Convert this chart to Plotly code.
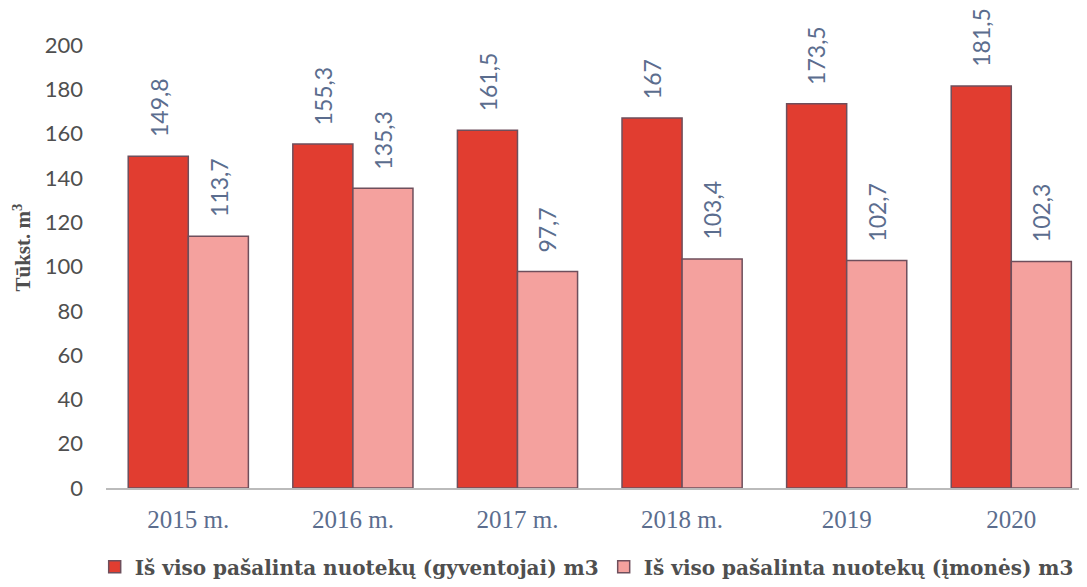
import plotly.graph_objects as go

categories = ["2015 m.", "2016 m.", "2017 m.", "2018 m.", "2019", "2020"]
residents = [149.8, 155.3, 161.5, 167, 173.5, 181.5]
companies = [113.7, 135.3, 97.7, 103.4, 102.7, 102.3]
residents_labels = ["149,8", "155,3", "161,5", "167", "173,5", "181,5"]
companies_labels = ["113,7", "135,3", "97,7", "103,4", "102,7", "102,3"]
series_names = ["Iš viso pašalinta nuotekų (gyventojai) m3",
                "Iš viso pašalinta nuotekų (įmonės) m3"]
y_ticks = [0, 20, 40, 60, 80, 100, 120, 140, 160, 180, 200]
y_title = "<b>Tūkst. m<sup>3</sup></b>"

RED = "#E13D30"
PINK = "#F4A19E"
EDGE = "#6E4F5C"
LABEL = "#5B6D8E"
GRAY = "#4F4F4F"

fig = go.Figure()
fig.add_trace(go.Bar(x=categories, y=residents, name=series_names[0],
                     marker=dict(color=RED, line=dict(color=EDGE, width=1.5))))
fig.add_trace(go.Bar(x=categories, y=companies, name=series_names[1],
                     marker=dict(color=PINK, line=dict(color=EDGE, width=1.5))))

annotations = []
for i in range(len(categories)):
    for vals, labs, sh in ((residents, residents_labels, -30), (companies, companies_labels, 30)):
        annotations.append(dict(x=i, y=vals[i], text=labs[i], xref="x", yref="y",
                                showarrow=False, textangle=-90, yanchor="bottom",
                                xshift=sh, yshift=17,
                                font=dict(family="Lato", size=23, color=LABEL)))
annotations.append(dict(x=0, y=0.5, xref="paper", yref="paper", xanchor="center",
                        yanchor="middle", xshift=-84, yshift=19,
                        text=y_title, showarrow=False, textangle=-90,
                        font=dict(family="Liberation Serif", size=21, color=GRAY)))

fig.update_layout(
    width=1079, height=579,
    margin=dict(l=98, r=0, t=37, b=99, autoexpand=False),
    paper_bgcolor="white", plot_bgcolor="white",
    barmode="group", bargap=0.27, bargroupgap=0,
    showlegend=True,
    legend=dict(orientation="h", x=0.49, xanchor="center", y=-0.178, yanchor="middle",
                font=dict(family="DejaVu Serif", size=20, color=GRAY, weight="bold"),
                itemwidth=30, tracegroupgap=0),
    xaxis=dict(type="category", range=[-0.5, 5.46], showline=True, linecolor="#BBBBBB",
               linewidth=1.5, ticks="", showgrid=False, automargin=False,
               ticklabelstandoff=8,
               tickfont=dict(family="Liberation Serif", size=25, color=LABEL)),
    yaxis=dict(range=[0, 200], tickvals=y_ticks, showgrid=False, zeroline=False,
               showline=False, ticks="", automargin=False, ticklabelstandoff=22,
               tickfont=dict(family="Lato", size=22, color=GRAY)),
    annotations=annotations,
)

fig.write_html("out.html")
